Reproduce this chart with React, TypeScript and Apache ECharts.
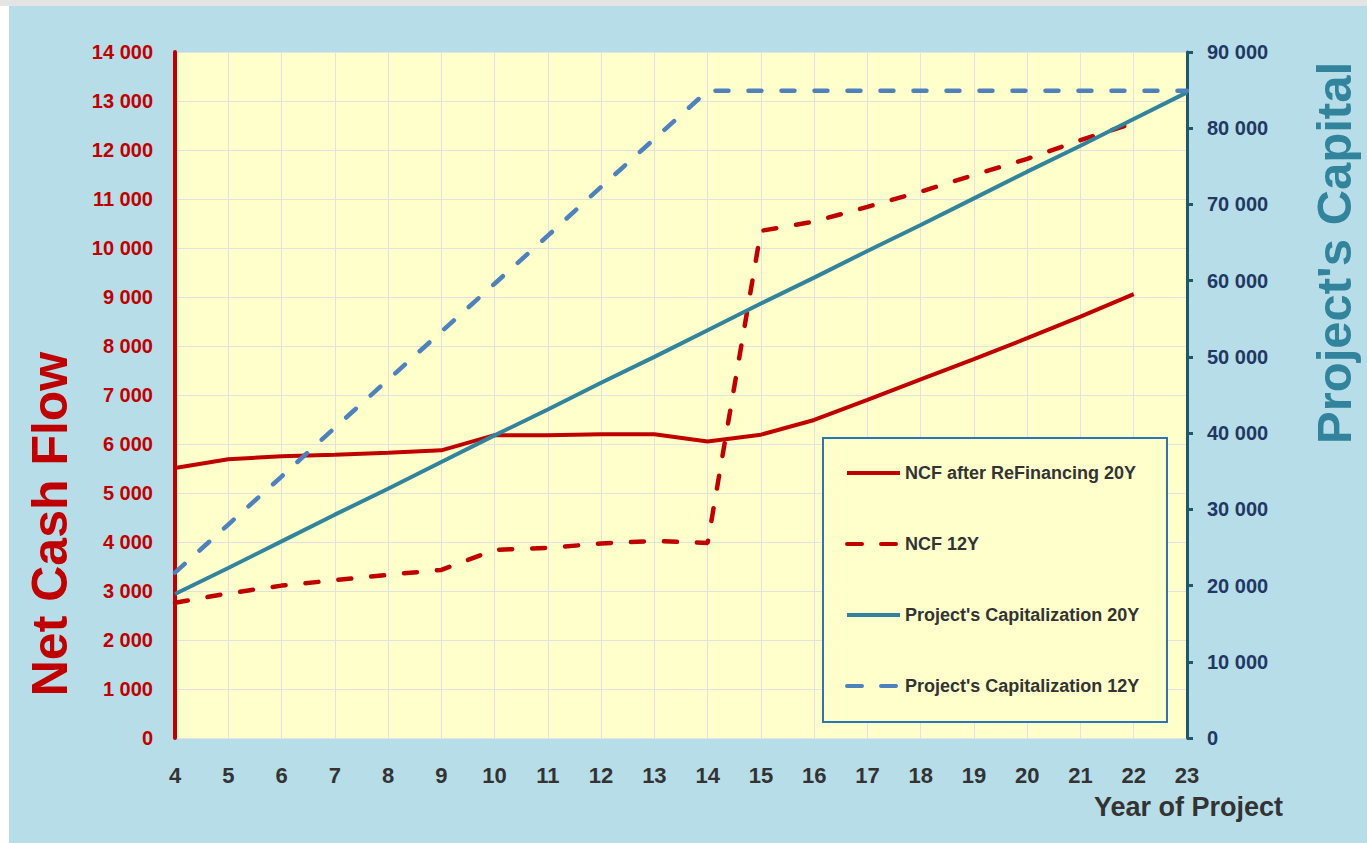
import React, { useEffect, useRef } from "react";
import * as echarts from "echarts";

const years = [4, 5, 6, 7, 8, 9, 10, 11, 12, 13, 14, 15, 16, 17, 18, 19, 20, 21, 22, 23];
const ncfRefi20 = [5510, 5690, 5750, 5780, 5820, 5870, 6180, 6180, 6200, 6200, 6050, 6190, 6490, 6900, 7320, 7730, 8160, 8600, 9060, null];
const ncf12 = [2760, 2950, 3110, 3220, 3330, 3430, 3840, 3880, 3970, 4020, 3980, 10350, 10540, 10840, 11150, 11490, 11820, 12200, 12550, null];
const cap20 = [18900, 22300, 25800, 29300, 32700, 36200, 39700, 43100, 46600, 50000, 53500, 57000, 60400, 63900, 67300, 70800, 74300, 77700, 81200, 84700];
const cap12 = [21700, 28000, 34300, 40700, 47000, 53300, 59600, 65900, 72300, 78600, 84900, 84900, 84900, 84900, 84900, 84900, 84900, 84900, 84900, 84900];
const leftTicks = { min: 0, max: 14000, interval: 1000 };
const rightTicks = { min: 0, max: 90000, interval: 10000 };
const names = ["NCF after ReFinancing 20Y", "NCF 12Y", "Project's Capitalization 20Y", "Project's Capitalization 12Y"];

const FONT = "Liberation Sans";
const RED = "#C00000";
const TEAL = "#31849B";
const BLUE = "#4F81BD";

const pairs = (vals: (number | null)[]) =>
  years.map((y, i) => [y, vals[i]]).filter((p) => p[1] !== null);

const fmt = (v: number) => String(v).replace(/\B(?=(\d{3})+(?!\d))/g, " ");

export default function App() {
  const ref = useRef<HTMLDivElement>(null);
  useEffect(() => {
    if (!ref.current) return;
    const chart = echarts.init(ref.current, null, { renderer: "svg" });
    const dash = [13, 20];
    const legendDash = [15, 19];
    chart.setOption({
      animation: false,
      backgroundColor: "#B7DDE8",
      textStyle: { fontFamily: FONT },
      grid: {
        left: 175,
        right: 180,
        top: 52,
        bottom: 105,
        show: true,
        backgroundColor: "#FFFFCC",
        borderWidth: 0,
      },
      legend: {
        orient: "vertical",
        left: 845,
        top: 464,
        padding: 0,
        itemWidth: 53,
        itemHeight: 22,
        itemGap: 53,
        itemStyle: { opacity: 0 },
        data: [
          { name: names[0], lineStyle: { width: 4, color: RED, type: "solid" } },
          { name: names[1], lineStyle: { width: 4, color: RED, type: legendDash } },
          { name: names[2], lineStyle: { width: 4, color: TEAL, type: "solid" } },
          { name: names[3], lineStyle: { width: 4, color: BLUE, type: legendDash } },
        ],
        textStyle: { fontFamily: FONT, fontSize: 18, fontWeight: "bold", color: "#333333" },
        z: 5,
      },
      xAxis: {
        type: "value",
        min: 4,
        max: 23,
        interval: 1,
        axisLine: { show: false },
        axisTick: { show: false },
        splitLine: { show: true, lineStyle: { color: "#E2E2E2", width: 1 } },
        axisLabel: { color: "#333333", fontSize: 22, fontWeight: "bold", margin: 26, fontFamily: FONT },
      },
      yAxis: [
        {
          type: "value",
          position: "left",
          ...leftTicks,
          axisLine: { show: true, lineStyle: { color: RED, width: 4 } },
          axisTick: { show: false },
          splitLine: { show: true, lineStyle: { color: "#E2E2E2", width: 1 } },
          axisLabel: { color: RED, fontSize: 20, fontWeight: "bold", margin: 22, formatter: fmt, fontFamily: FONT },
        },
        {
          type: "value",
          position: "right",
          ...rightTicks,
          axisLine: { show: true, lineStyle: { color: "#1F5868", width: 3 } },
          axisTick: { show: true, inside: false, length: 6, lineStyle: { color: "#1F5868", width: 3 } },
          splitLine: { show: false },
          axisLabel: { color: "#1F3864", fontSize: 20, fontWeight: "bold", margin: 20, formatter: fmt, fontFamily: FONT },
        },
      ],
      graphic: [
        { type: "rect", shape: { x: 0, y: 0, width: 9, height: 843 }, style: { fill: "#FFFFFF" }, silent: true },
        { type: "rect", shape: { x: 0, y: 0, width: 1367, height: 6 }, style: { fill: "#E4E4E4" }, silent: true },
        {
          type: "rect",
          z: 3,
          shape: { x: 823, y: 438, width: 344, height: 284 },
          style: { fill: "#FFFFCC", stroke: "#2E75B6", lineWidth: 2 },
          silent: true,
        },
        {
          type: "text",
          x: 50,
          y: 524,
          rotation: Math.PI / 2,
          style: {
            text: "Net Cash Flow",
            fontFamily: FONT,
            fontSize: 50,
            fontWeight: "bold",
            fill: RED,
            align: "center",
            verticalAlign: "middle",
          },
        },
        {
          type: "text",
          x: 1334,
          y: 253,
          rotation: Math.PI / 2,
          style: {
            text: "Project's Capital",
            fontFamily: FONT,
            fontSize: 49,
            fontWeight: "bold",
            fill: TEAL,
            align: "center",
            verticalAlign: "middle",
          },
        },
        {
          type: "text",
          x: 1283,
          y: 807,
          style: {
            text: "Year of Project",
            fontFamily: FONT,
            fontSize: 27,
            fontWeight: "bold",
            fill: "#333333",
            align: "right",
            verticalAlign: "middle",
          },
        },
      ],
      series: [
        {
          name: names[0],
          type: "line",
          yAxisIndex: 0,
          symbol: "none",
          data: pairs(ncfRefi20),
          lineStyle: { color: RED, width: 4 },
          itemStyle: { color: RED },
          z: 4,
        },
        {
          name: names[1],
          type: "line",
          yAxisIndex: 0,
          symbol: "none",
          data: pairs(ncf12),
          lineStyle: { color: RED, width: 4.5, type: dash, cap: "round" },
          itemStyle: { color: RED },
          z: 4,
        },
        {
          name: names[2],
          type: "line",
          yAxisIndex: 1,
          symbol: "none",
          data: pairs(cap20),
          lineStyle: { color: TEAL, width: 4 },
          itemStyle: { color: TEAL },
          z: 4,
        },
        {
          name: names[3],
          type: "line",
          yAxisIndex: 1,
          symbol: "none",
          data: pairs(cap12),
          lineStyle: { color: BLUE, width: 4.5, type: dash, cap: "round" },
          itemStyle: { color: BLUE },
          z: 4,
        },
      ],
    });
    return () => chart.dispose();
  }, []);
  return (
    <div
      ref={ref}
      style={{ position: "absolute", left: 0, top: 0, width: 1367, height: 843 }}
    />
  );
}
